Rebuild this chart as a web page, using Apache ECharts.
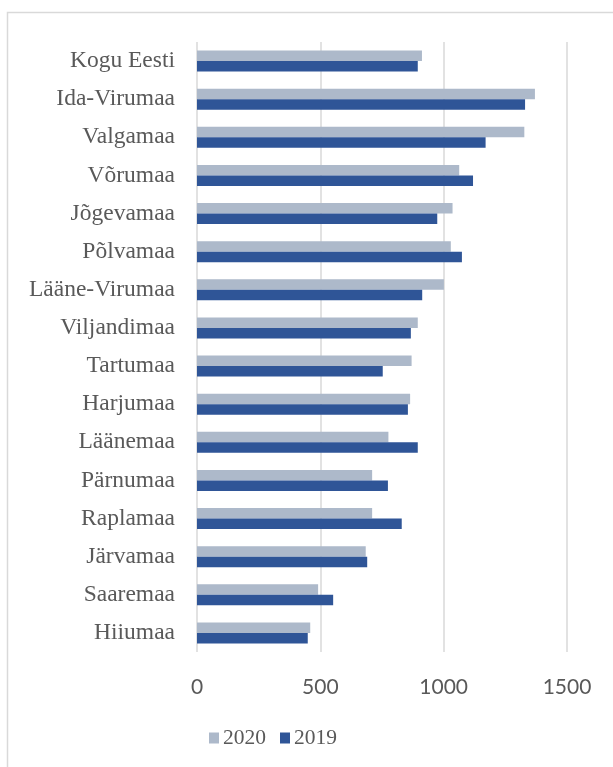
<!DOCTYPE html>
<html>
<head>
<meta charset="utf-8">
<script src="https://cdn.jsdelivr.net/npm/echarts@6/dist/echarts.min.js"></script>
<style>
html,body{margin:0;padding:0;background:#fff;}
#c{width:613px;height:767px;}
</style>
</head>
<body>
<div id="c"></div>
<script>
var categories = ["Kogu Eesti","Ida-Virumaa","Valgamaa","Võrumaa","Jõgevamaa","Põlvamaa","Lääne-Virumaa","Viljandimaa","Tartumaa","Harjumaa","Läänemaa","Pärnumaa","Raplamaa","Järvamaa","Saaremaa","Hiiumaa"];
var values2020 = [912,1370,1327,1063,1036,1029,1001,895,870,864,776,710,710,684,491,459];
var values2019 = [895,1330,1170,1119,974,1074,913,867,753,855,895,774,830,690,552,449];
var seriesNames = ["2020","2019"];
var xTicks = [0,500,1000,1500];

var chart = echarts.init(document.getElementById('c'), null, {renderer:'canvas'});
chart.setOption({
  animation:false,
  backgroundColor:'#ffffff',
  graphic:[{type:'rect', shape:{x:7.5,y:12.5,width:700,height:800}, style:{fill:'none', stroke:'#d9d9d9', lineWidth:1.5}, silent:true, z:-1}],
  grid:{left:197,right:46,top:42,bottom:115},
  legend:{
    data:seriesNames, left:209, top:727, padding:0, itemWidth:10, itemHeight:11, itemGap:14,
    icon:'rect',
    textStyle:{fontFamily:'Liberation Serif', fontSize:21.5, color:'#595959', padding:[0,0,0,-1]}
  },
  xAxis:{
    type:'value', min:0, max:1500, interval:500,
    axisLine:{show:false}, axisTick:{show:false},
    splitLine:{lineStyle:{color:'#d9d9d9', width:1.5}},
    axisLabel:{fontFamily:'Lato', fontSize:21, color:'#595959', margin:25,
      formatter:function(v){return xTicks.indexOf(v)>=0? String(v):'';}}
  },
  yAxis:{
    type:'category', data:categories, inverse:true,
    axisLine:{show:false}, axisTick:{show:false},
    axisLabel:{fontFamily:'Liberation Serif', fontSize:23.5, color:'#595959', margin:22}
  },
  series:[
    {name:seriesNames[0], type:'bar', data:values2020, itemStyle:{color:'#adb9ca'}, barGap:'0%', barCategoryGap:'45%'},
    {name:seriesNames[1], type:'bar', data:values2019, itemStyle:{color:'#2f5597'}, barGap:'0%', barCategoryGap:'45%'}
  ]
});
</script>
</body>
</html>
